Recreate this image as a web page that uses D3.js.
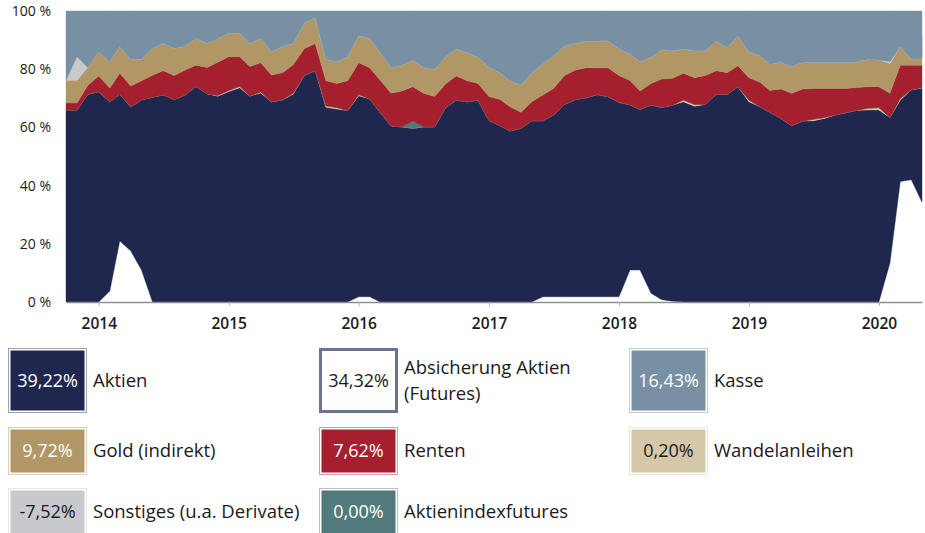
<!DOCTYPE html>
<html>
<head>
<meta charset="utf-8">
<script src="https://cdn.jsdelivr.net/npm/d3@7"></script>
<style>
	body { margin: 0; background: #fff; }
	svg { display: block; font-family: "Open Sans", sans-serif; }
</style>
</head>
<body>
<div id="chart"></div>
<script>
const WIDTH = 925;
const HEIGHT = 533;
const PLOT = {left: 66, right: 922, top: 11, bottom: 302};

// monthly points, Oct 2013 .. May 2020
const months = d3.timeMonth.range(new Date(2013, 9, 1), new Date(2020, 4, 2));

const yTicks = [0, 20, 40, 60, 80, 100];

// values in % of fund volume, stacked bottom to top in this order
const absicherung = [
	0, 0, 0, 0, 3.8, 21.0, 17.5, 11.0, 0, 0,
	0, 0, 0, 0, 0, 0, 0, 0, 0, 0,
	0, 0, 0, 0, 0, 0, 0, 1.8, 1.8, 0,
	0, 0, 0, 0, 0, 0, 0, 0, 0, 0,
	0, 0, 0, 0, 1.8, 1.8, 1.8, 1.8, 1.8, 1.8,
	1.8, 1.8, 11.0, 11.0, 3.0, 0.8, 0.3, 0, 0, 0,
	0, 0, 0, 0, 0, 0, 0, 0, 0, 0,
	0, 0, 0, 0, 0, 0, 13.4, 41.4, 42.0, 34.32
];
const aktien = [
	66.0, 66.0, 71.4, 72.3, 65.0, 50.4, 49.6, 58.5, 70.4, 71.2,
	69.6, 71.2, 74.1, 71.6, 70.7, 72.3, 73.6, 70.8, 71.8, 68.8,
	69.5, 71.4, 77.8, 79.6, 66.9, 66.3, 65.8, 69.1, 68.0, 65.2,
	60.5, 60.2, 59.7, 60.2, 60.2, 66.8, 69.4, 68.8, 69.4, 62.4,
	60.6, 58.8, 59.7, 62.3, 60.5, 62.5, 66.1, 67.8, 68.4, 69.5,
	68.8, 66.8, 56.8, 55.2, 64.7, 66.1, 67.4, 68.8, 67.3, 67.9,
	71.4, 71.4, 74.0, 68.8, 67.1, 65.2, 63.1, 60.6, 62.2, 62.3,
	63.1, 64.3, 65.1, 65.9, 66.0, 66.0, 50.0, 28.0, 30.9, 39.22
];
const wandelanleihen = [
	0, 0, 0, 0, 0, 0, 0, 0, 0, 0,
	0, 0, 0, 0, 0.3, 0.4, 0.5, 0, 0.4, 0,
	0, 0.3, 0, 0, 0.5, 0.5, 0, 0.4, 0, 0,
	0, 0, 0, 0, 0, 0, 0, 0, 0, 0,
	0, 0, 0, 0, 0, 0, 0, 0, 0, 0,
	0, 0, 0, 0, 0, 0, 0, 0.6, 0.6, 0,
	0, 0, 0, 0.6, 0, 0, 0, 0, 0, 0.5,
	0.3, 0, 0, 0, 0.6, 0.8, 0, 0.6, 0, 0.20
];
const aktienindexfutures = [
	0, 0, 0, 0, 0, 0, 0, 0, 0, 0,
	0, 0, 0, 0, 0, 0, 0, 0, 0, 0,
	0, 0, 0, 0, 0, 0, 0, 0, 0, 0,
	0, 0, 2.5, 0, 0, 0, 0, 0, 0, 0,
	0, 0, 0, 0, 0, 0, 0, 0, 0, 0,
	0, 0, 0, 0, 0, 0, 0, 0, 0, 0,
	0, 0, 0, 0, 0, 0, 0, 0, 0, 0,
	0, 0, 0, 0, 0, 0, 0, 0, 0, 0
];
const renten = [
	2.4, 2.4, 3.0, 5.4, 4.7, 7.2, 7.1, 6.5, 7.5, 8.3,
	8.2, 8.5, 7.3, 9.0, 11.4, 11.6, 10.2, 10.1, 10.0, 9.2,
	9.3, 9.8, 9.2, 9.2, 8.6, 8.3, 10.2, 10.9, 10.7, 11.1,
	11.2, 12.3, 11.8, 11.5, 10.4, 8.1, 8.3, 7.2, 5.7, 8.2,
	9.0, 8.3, 5.5, 6.5, 8.8, 9.1, 9.9, 10.1, 10.3, 9.2,
	9.9, 9.2, 8.3, 6.3, 7.4, 9.7, 9.2, 9.2, 9.2, 9.9,
	8.1, 7.4, 7.2, 7.7, 8.4, 7.5, 10.1, 11.1, 11.0, 10.6,
	10.0, 9.1, 8.3, 7.8, 7.4, 7.2, 8.3, 11.4, 8.5, 7.62
];
const gold = [
	7.8, 7.8, 6.2, 8.3, 9.1, 9.1, 9.2, 7.4, 9.3, 9.4,
	9.4, 8.2, 9.2, 8.3, 8.1, 8.1, 8.1, 8.0, 8.4, 8.0,
	9.1, 7.3, 8.9, 9.0, 7.4, 7.5, 8.3, 9.4, 10.1, 9.4,
	8.9, 8.9, 9.2, 8.9, 9.4, 9.4, 9.2, 9.7, 9.1, 10.1,
	9.2, 8.9, 9.4, 10.0, 10.7, 11.1, 10.2, 9.2, 9.2, 9.2,
	9.3, 9.2, 9.2, 10.1, 9.0, 10.2, 9.4, 8.3, 9.2, 8.5,
	10.2, 8.6, 10.2, 8.9, 9.1, 9.1, 9.2, 9.2, 9.2, 9.0,
	9.0, 9.0, 9.0, 8.9, 9.4, 9.2, 10.3, 6.3, 2.1, 9.72
];
const sonstiges = [
	0, 8.1, 0, 0, 0, 0, 0, 0, 0, 0,
	0, 0, 0, 0, 0, 0, 0, 0, 0, 0,
	0, 0, 0, 0, 0, 0, 0, 0, 0, 0,
	0, 0, 0, 0, 0, 0, 0, 0, 0, 0,
	0, 0, 0, 0, 0, 0, 0, 0, 0, 0,
	0, 0, 0, 0, 0, 0, 0, 0, 0, 0,
	0, 0, 0, 0, 0, 0, 0, 0, 0, 0,
	0, 0, 0, 0, 0, 0, 0.6, 0, 0, -7.52
];
const kasse = [
	23.8, 15.7, 19.4, 14.0, 17.4, 12.3, 16.6, 16.6, 12.8, 11.1,
	12.8, 12.1, 9.4, 11.1, 9.5, 7.6, 7.6, 11.1, 9.4, 14.0,
	12.1, 11.2, 4.1, 2.2, 16.6, 17.4, 15.7, 8.4, 9.4, 14.3,
	19.4, 18.6, 16.8, 19.4, 20.0, 15.7, 13.1, 14.3, 15.8, 19.3,
	21.2, 24.0, 25.4, 21.2, 18.2, 15.5, 12.0, 11.1, 10.3, 10.3,
	10.2, 13.0, 14.7, 17.4, 15.9, 13.2, 13.7, 13.1, 13.7, 13.7,
	10.3, 12.6, 8.6, 14.0, 15.4, 18.2, 17.6, 19.1, 17.6, 17.6,
	17.6, 17.6, 17.6, 17.4, 16.6, 16.8, 17.4, 12.3, 16.5, 16.43
];

const SERIES = [
	{key: 'absicherung', values: absicherung, label: ['Absicherung Aktien', '(Futures)'], color: '#ffffff', border: '#6c7391', text: '#1a1a1a'},
	{key: 'aktien', values: aktien, label: ['Aktien'], color: '#1f274f', text: '#ffffff'},
	{key: 'wandelanleihen', values: wandelanleihen, label: ['Wandelanleihen'], color: '#d5c8a9', text: '#1a1a1a'},
	{key: 'aktienindexfutures', values: aktienindexfutures, label: ['Aktienindexfutures'], color: '#527a7c', text: '#ffffff'},
	{key: 'renten', values: renten, label: ['Renten'], color: '#a51f2e', text: '#ffffff'},
	{key: 'gold', values: gold, label: ['Gold (indirekt)'], color: '#b19765', text: '#ffffff'},
	{key: 'sonstiges', values: sonstiges, label: ['Sonstiges (u.a. Derivate)'], color: '#c8c9cc', text: '#1a1a1a'},
	{key: 'kasse', values: kasse, label: ['Kasse'], color: '#7890a4', text: '#ffffff'}
];

// legend grid, read row by row
const LEGEND_ORDER = [
	['aktien', 'absicherung', 'kasse'],
	['gold', 'renten', 'wandelanleihen'],
	['sonstiges', 'aktienindexfutures']
];

const de = d3.formatLocale({decimal: ',', thousands: '.', grouping: [3], currency: ['', ' €'], minus: '-'});
const pct = de.format('.2f');

class AllocationChart {
	constructor(id) {
		this.svg = d3.select(`#${id}`).append('svg')
			.attr('width', WIDTH)
			.attr('height', HEIGHT);

		this.init();
	}

	init() {
		this.xScale = d3.scaleTime()
			.domain([months[0], months[months.length - 1]])
			.range([PLOT.left, PLOT.right]);

		this.yScale = d3.scaleLinear()
			.domain([0, 100])
			.range([PLOT.bottom, PLOT.top]);

		this.rows = months.map((date, i) => {
			let row = {date: date};
			SERIES.forEach(s => { row[s.key] = s.values[i]; });
			return row;
		});

		this.renderAreas();
		this.renderAxis();
		this.renderLegend();
	}

	renderAreas() {
		let stack = d3.stack()
			.keys(SERIES.map(s => s.key))
			.order(d3.stackOrderNone)
			.offset(d3.stackOffsetNone);

		let area = d3.area()
			.x(d => this.xScale(d.data.date))
			.y0(d => this.yScale(d[0]))
			.y1(d => this.yScale(d[1]));

		let layers = stack(this.rows);

		this.svg.append('g')
			.selectAll('path')
			.data(layers)
			.join('path')
			.attr('fill', (d, i) => SERIES[i].color)
			.attr('stroke', (d, i) => SERIES[i].color)
			.attr('stroke-width', 0.4)
			.attr('d', area);
	}

	renderAxis() {
		let xAxis = d3.axisBottom(this.xScale)
			.ticks(d3.timeYear.every(1))
			.tickFormat(d3.timeFormat('%Y'))
			.tickSizeInner(4)
			.tickSizeOuter(0)
			.tickPadding(12);

		let gx = this.svg.append('g')
			.attr('class', 'x axis')
			.attr('transform', `translate(0, ${PLOT.bottom})`)
			.call(xAxis);

		gx.select('.domain').attr('stroke', '#8f8f8f').attr('stroke-width', 1.5);
		gx.selectAll('.tick line').attr('stroke', '#b5b5b5');
		gx.selectAll('.tick text')
			.attr('fill', '#1a1a1a')
			.style('font-size', '15.5px')
			.style('font-weight', 600)
			.style('font-family', '"Open Sans", sans-serif');

		this.svg.append('g')
			.attr('class', 'y axis')
			.selectAll('text')
			.data(yTicks)
			.join('text')
			.attr('x', 51)
			.attr('y', d => this.yScale(d))
			.attr('dy', '0.35em')
			.attr('text-anchor', 'end')
			.attr('fill', '#1a1a1a')
			.style('font-size', '14px')
			.text(d => `${d} %`);
	}

	renderLegend() {
		const colX = [8, 319, 629];
		const rowY = [348, 427, 488];
		const rowH = [65, 48, 48];
		const boxW = 79;
		const lineH = 25.5;

		LEGEND_ORDER.forEach((row, r) => {
			row.forEach((key, c) => {
				let s = SERIES.find(d => d.key === key);
				let last = s.values[s.values.length - 1];
				let g = this.svg.append('g')
					.attr('transform', `translate(${colX[c]}, ${rowY[r]})`);

				if (s.border) {
					g.append('rect')
						.attr('x', 1.5).attr('y', 1.5)
						.attr('width', boxW - 3).attr('height', rowH[r] - 3)
						.attr('fill', '#fff')
						.attr('stroke', s.border)
						.attr('stroke-width', 3);
				} else {
					g.append('rect')
						.attr('x', 0.5).attr('y', 0.5)
						.attr('width', boxW - 1).attr('height', rowH[r] - 1)
						.attr('fill', '#fff')
						.attr('stroke', d3.interpolateRgb(s.color, '#ffffff')(0.55))
						.attr('stroke-width', 1);
					g.append('rect')
						.attr('x', 2.5).attr('y', 2.5)
						.attr('width', boxW - 5).attr('height', rowH[r] - 5)
						.attr('fill', s.color);
				}

				g.append('text')
					.attr('x', boxW / 2)
					.attr('y', rowH[r] / 2)
					.attr('dy', '0.35em')
					.attr('text-anchor', 'middle')
					.attr('fill', s.text)
					.style('font-size', '18px')
					.text(`${pct(last)}%`);

				// one text per line so wrapped labels stay separate
				let y0 = rowH[r] / 2 - (s.label.length - 1) * lineH / 2;
				s.label.forEach((line, i) => {
					g.append('text')
						.attr('x', boxW + 6)
						.attr('y', y0 + i * lineH)
						.attr('dy', '0.35em')
						.attr('fill', '#1a1a1a')
						.style('font-size', '18.5px')
						.text(line);
				});
			});
		});
	}
}

new AllocationChart('chart');
</script>
</body>
</html>
